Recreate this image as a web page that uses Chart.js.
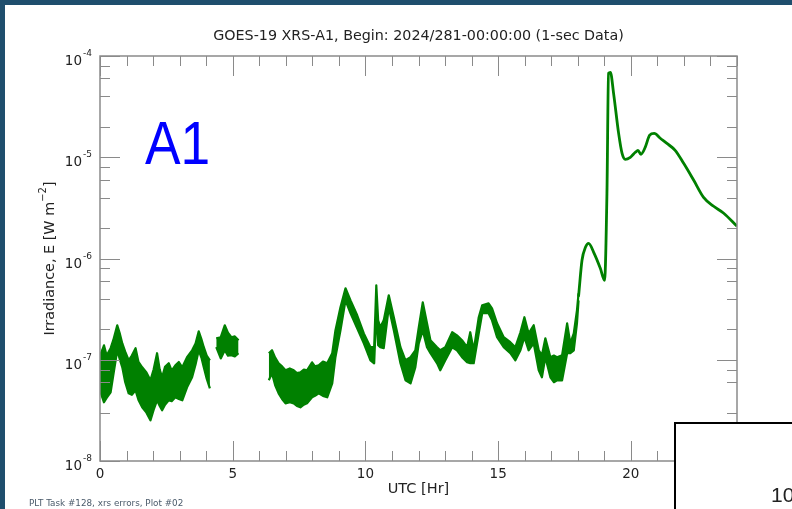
<!DOCTYPE html>
<html>
<head>
<meta charset="utf-8">
<script src="https://cdn.jsdelivr.net/npm/chart.js@4.4.1/dist/chart.umd.min.js"></script>
<style>
    html, body { margin: 0; padding: 0; background: #ffffff; }
    #wrap { position: relative; width: 792px; height: 509px; }
</style>
</head>
<body>
<div id="wrap"><canvas id="mainChart" width="792" height="509"></canvas></div>
<script>
// ============================================
// DATA
// ============================================

// noisy 1-sec data, drawn as a band between upper and lower envelope
const noisyHours = [
    0.00, 0.08, 0.15, 0.25, 0.40, 0.50, 0.65, 0.75, 0.84, 0.95, 1.08, 1.20, 1.34, 1.45, 1.59, 1.75, 1.90, 2.02, 2.15, 2.25, 2.34,
    2.45, 2.59, 2.70, 2.84, 2.97, 3.10, 3.28, 3.47, 3.60, 3.72, 3.82, 3.91, 4.02, 4.14,
    4.26,
    4.38, 4.55, 4.70, 4.82, 4.95, 5.08, 5.22,
    5.80,
    6.36, 6.48, 6.60, 6.73, 6.86, 6.99, 7.15, 7.30, 7.42, 7.55, 7.68, 7.80, 7.99, 8.10, 8.24, 8.40, 8.56, 8.75, 8.87, 9.06, 9.25, 9.44, 9.69, 9.94,
    10.19, 10.33, 10.41, 10.48, 10.56, 10.69, 10.88, 11.07, 11.32, 11.51, 11.70, 11.88, 12.01, 12.16, 12.32, 12.45,
    12.70, 12.82, 13.01, 13.27, 13.45, 13.64, 13.83, 13.95, 14.08, 14.27, 14.40, 14.64, 14.77, 14.96, 15.21, 15.46,
    15.65, 15.84, 15.99, 16.15, 16.34, 16.53, 16.65, 16.78, 16.97, 17.10, 17.22, 17.41, 17.60, 17.72, 17.85, 17.97, 18.03
];
const noisyUpper = [
    1.11e-7, 1.24e-7, 1.39e-7, 1.10e-7, 1.30e-7, 1.56e-7, 2.19e-7, 1.80e-7, 1.45e-7, 1.20e-7, 9.88e-8, 1.10e-7, 1.30e-7, 9.5e-8, 8.42e-8, 7.5e-8, 6.27e-8, 8.0e-8, 1.16e-7, 8.0e-8, 6.71e-8,
    8.5e-8, 9.23e-8, 7.8e-8, 8.82e-8, 9.5e-8, 8.42e-8, 1.06e-7, 1.24e-7, 1.45e-7, 1.91e-7, 1.60e-7, 1.33e-7, 1.10e-7, 9.88e-8,
    null,
    1.63e-7, 1.67e-7, 2.19e-7, 1.85e-7, 1.67e-7, 1.70e-7, 1.56e-7,
    null,
    1.16e-7, 1.24e-7, 1.05e-7, 9.23e-8, 8.6e-8, 7.87e-8, 8.2e-8, 7.87e-8, 7.4e-8, 7.52e-8, 8.0e-8, 7.87e-8, 9.44e-8, 8.6e-8, 8.82e-8, 9.6e-8, 9.23e-8, 1.16e-7, 1.95e-7, 3.30e-7, 5.08e-7, 3.86e-7, 2.75e-7, 1.82e-7,
    1.33e-7, 1.33e-7, 5.44e-7, 2.45e-7, 2.09e-7, 2.45e-7, 4.33e-7, 2.63e-7, 1.33e-7, 9.88e-8, 1.06e-7, 1.24e-7, 2.09e-7, 3.69e-7, 2.29e-7, 1.56e-7,
    1.33e-7, 1.24e-7, 1.33e-7, 1.87e-7, 1.74e-7, 1.56e-7, 1.33e-7, 1.87e-7, 1.24e-7, 2.63e-7, 3.45e-7, 3.61e-7, 3.22e-7, 2.29e-7, 1.67e-7, 1.49e-7,
    1.33e-7, 1.87e-7, 2.63e-7, 1.82e-7, 2.19e-7, 1.24e-7, 1.11e-7, 1.63e-7, 1.06e-7, 1.10e-7, 1.06e-7, 1.11e-7, 2.29e-7, 1.45e-7, 1.82e-7, 3.08e-7, 4.53e-7
];
const noisyLower = [
    4.99e-8, 4.3e-8, 3.80e-8, 4.2e-8, 4.77e-8, 7.00e-8, 1.24e-7, 1.00e-7, 8.42e-8, 6.0e-8, 4.66e-8, 4.5e-8, 4.99e-8, 4.0e-8, 3.39e-8, 3.0e-8, 2.52e-8, 3.2e-8, 3.98e-8, 3.5e-8, 3.17e-8,
    3.6e-8, 3.98e-8, 3.9e-8, 4.26e-8, 4.1e-8, 3.98e-8, 5.34e-8, 6.71e-8, 9.0e-8, 1.24e-7, 1.05e-7, 8.42e-8, 6.5e-8, 5.22e-8,
    null,
    1.33e-7, 1.03e-7, 1.24e-7, 1.10e-7, 1.11e-7, 1.08e-7, 1.16e-7,
    null,
    6.27e-8, 7.35e-8, 5.6e-8, 4.66e-8, 4.1e-8, 3.71e-8, 3.8e-8, 3.71e-8, 3.5e-8, 3.39e-8, 3.6e-8, 3.71e-8, 4.26e-8, 4.4e-8, 4.66e-8, 4.4e-8, 4.26e-8, 5.85e-8, 1.06e-7, 1.95e-7, 3.86e-7, 2.88e-7, 2.04e-7, 1.45e-7,
    9.88e-8, 9.23e-8, 3.08e-7, 1.39e-7, 1.33e-7, 1.30e-7, 3.30e-7, 1.95e-7, 9.23e-8, 6.27e-8, 5.85e-8, 8.42e-8, 1.45e-7, 1.95e-7, 1.33e-7, 1.16e-7,
    9.23e-8, 7.87e-8, 9.88e-8, 1.33e-7, 1.24e-7, 1.06e-7, 9.44e-8, 9.23e-8, 9.23e-8, 1.82e-7, 2.88e-7, 2.88e-7, 2.45e-7, 1.67e-7, 1.33e-7, 1.16e-7,
    9.88e-8, 1.24e-7, 1.67e-7, 1.24e-7, 1.45e-7, 7.87e-8, 6.71e-8, 1.06e-7, 6.71e-8, 6.0e-8, 6.27e-8, 6.27e-8, 1.16e-7, 1.16e-7, 1.24e-7, 2.29e-7, 3.86e-7
];

// smooth flare part
const flareHours = [
    18.03, 18.16, 18.29, 18.41, 18.60, 18.85, 19.01, 19.10, 19.16, 19.23, 19.35, 19.54, 19.67, 19.79, 19.98,
    20.17, 20.27, 20.38, 20.54, 20.71, 20.88, 21.11, 21.36, 21.67, 21.99, 22.37, 22.74, 23.12, 23.50, 24.00
];
const flareValues = [
    4.2e-7, 9.6e-7, 1.29e-6, 1.41e-6, 1.15e-6, 8.0e-7, 6.09e-7, 4.41e-6, 6.75e-5, 6.9e-5, 4.28e-5, 1.72e-5, 1.09e-5, 9.54e-6, 9.99e-6,
    1.12e-5, 1.17e-5, 1.07e-5, 1.25e-5, 1.65e-5, 1.72e-5, 1.54e-5, 1.37e-5, 1.17e-5, 8.71e-6, 5.92e-6, 4.02e-6, 3.28e-6, 2.80e-6, 2.08e-6
];

const xMajorLabels = [0, 5, 10, 15, 20];
const yDecades = [-8, -7, -6, -5, -4];

const titleText = 'GOES-19 XRS-A1, Begin: 2024/281-00:00:00 (1-sec Data)';
const xTitle = 'UTC [Hr]';
const yTitle = 'Irradiance, E [W m';
const footerText = 'PLT Task #128, xrs errors, Plot #02';

const GREEN = '#008000';
const AXIS = '#8a8a8a';
const TEXT = '#222222';

// ============================================
// PLUGIN: frame, ticks, labels
// ============================================
const idlAxes = {
    id: 'idlAxes',
    beforeDraw(chart) {
        const ctx = chart.ctx;
        ctx.save();
        ctx.fillStyle = '#ffffff';
        ctx.fillRect(0, 0, chart.width, chart.height);
        ctx.fillStyle = '#1f4e6d';
        ctx.fillRect(0, 0, chart.width, 5);
        ctx.fillRect(0, 0, 5, chart.height);
        ctx.restore();
    },
    afterDraw(chart) {
        const ctx = chart.ctx;
        const a = chart.chartArea;
        const xs = chart.scales.x;
        const ys = chart.scales.y;
        ctx.save();

        // frame
        ctx.strokeStyle = AXIS;
        ctx.lineWidth = 1.5;
        ctx.strokeRect(a.left, a.top, a.right - a.left, a.bottom - a.top);

        // x ticks (top and bottom, inward)
        ctx.lineWidth = 1;
        xs.ticks.forEach(t => {
            const px = Math.round(xs.getPixelForValue(t.value)) + 0.5;
            const len = t.value % 5 === 0 ? 20 : 10;
            ctx.beginPath();
            ctx.moveTo(px, a.bottom); ctx.lineTo(px, a.bottom - len);
            ctx.moveTo(px, a.top); ctx.lineTo(px, a.top + len);
            ctx.stroke();
        });

        // y ticks (left and right, inward)
        ys.ticks.forEach(t => {
            const lg = Math.log10(t.value);
            const major = Math.abs(lg - Math.round(lg)) < 1e-6;
            const py = Math.round(ys.getPixelForValue(t.value)) + 0.5;
            const len = major ? 20 : 10;
            ctx.beginPath();
            ctx.moveTo(a.left, py); ctx.lineTo(a.left + len, py);
            ctx.moveTo(a.right, py); ctx.lineTo(a.right - len, py);
            ctx.stroke();
        });

        // x tick labels
        ctx.fillStyle = TEXT;
        ctx.font = '13.5px "DejaVu Sans"';
        ctx.textAlign = 'center';
        ctx.textBaseline = 'alphabetic';
        xMajorLabels.forEach(v => {
            ctx.fillText(String(v), xs.getPixelForValue(v), a.bottom + 17);
        });

        // y tick labels 10^n
        yDecades.forEach(e => {
            const py = ys.getPixelForValue(Math.pow(10, e));
            ctx.font = '13.5px "DejaVu Sans"';
            ctx.textAlign = 'right';
            ctx.fillText('10', a.left - 18, py + 9);
            ctx.font = '9px "DejaVu Sans"';
            ctx.textAlign = 'left';
            ctx.fillText('-' + Math.abs(e), a.left - 17, py);
        });

        // title
        ctx.font = '14.3px "DejaVu Sans"';
        ctx.textAlign = 'center';
        ctx.fillText(titleText, (a.left + a.right) / 2, 40);

        // x title
        ctx.font = '14.5px "DejaVu Sans"';
        ctx.fillText(xTitle, (a.left + a.right) / 2, 493);

        // y title (rotated, with superscript)
        ctx.save();
        ctx.translate(54, (a.top + a.bottom) / 2);
        ctx.rotate(-Math.PI / 2);
        ctx.font = '14.4px "DejaVu Sans"';
        const w1 = ctx.measureText(yTitle).width;
        ctx.font = '10px "DejaVu Sans"';
        const w2 = ctx.measureText('\u22122').width;
        ctx.font = '14.4px "DejaVu Sans"';
        const w3 = ctx.measureText(']').width;
        let x0 = -(w1 + w2 + w3) / 2;
        ctx.textAlign = 'left';
        ctx.fillText(yTitle, x0, 0);
        ctx.font = '10px "DejaVu Sans"';
        ctx.fillText('\u22122', x0 + w1, -8);
        ctx.font = '14.4px "DejaVu Sans"';
        ctx.fillText(']', x0 + w1 + w2, 0);
        ctx.restore();

        // footer
        ctx.fillStyle = '#4a5a6a';
        ctx.font = '8.8px "DejaVu Sans"';
        ctx.textAlign = 'left';
        ctx.fillText(footerText, 29, 506);

        // A1 label
        ctx.save();
        ctx.fillStyle = '#0000ff';
        ctx.font = '62px "Liberation Sans"';
        ctx.translate(145, 164);
        ctx.scale(0.86, 1);
        ctx.fillText('A1', 0, 0);
        ctx.restore();

        // box in the corner
        ctx.fillStyle = '#ffffff';
        ctx.fillRect(674, 422, 118, 87);
        ctx.strokeStyle = '#000000';
        ctx.lineWidth = 2;
        ctx.beginPath();
        ctx.moveTo(675, 509); ctx.lineTo(675, 423); ctx.lineTo(792, 423);
        ctx.stroke();
        ctx.fillStyle = TEXT;
        ctx.font = '21px "Liberation Sans"';
        ctx.fillText('10', 771, 502);

        ctx.restore();
    }
};

// ============================================
// CHART
// ============================================
const toXY = (xs, ys) => xs.map((x, i) => ({ x: x, y: ys[i] }));

new Chart(document.getElementById('mainChart').getContext('2d'), {
    type: 'line',
    data: {
        datasets: [
            {
                data: toXY(noisyHours, noisyUpper),
                borderColor: GREEN,
                borderWidth: 2.2,
                borderJoinStyle: 'round',
                pointRadius: 0,
                fill: false,
                spanGaps: false,
            },
            {
                data: toXY(noisyHours, noisyLower),
                borderColor: GREEN,
                borderWidth: 2.2,
                borderJoinStyle: 'round',
                backgroundColor: GREEN,
                pointRadius: 0,
                fill: '-1',
                spanGaps: false,
            },
            {
                data: toXY(flareHours, flareValues),
                borderColor: GREEN,
                borderWidth: 2.8,
                pointRadius: 0,
                fill: false,
                cubicInterpolationMode: 'monotone',
            }
        ]
    },
    options: {
        responsive: false,
        animation: false,
        devicePixelRatio: 1,
        layout: { padding: { left: 100, right: 55, top: 56, bottom: 48 } },
        scales: {
            x: { type: 'linear', min: 0, max: 24, display: false, ticks: { stepSize: 1 } },
            y: { type: 'logarithmic', min: 1e-8, max: 1e-4, display: false }
        },
        plugins: {
            legend: { display: false },
            tooltip: { enabled: false },
            title: { display: false }
        }
    },
    plugins: [idlAxes]
});
</script>
</body>
</html>
